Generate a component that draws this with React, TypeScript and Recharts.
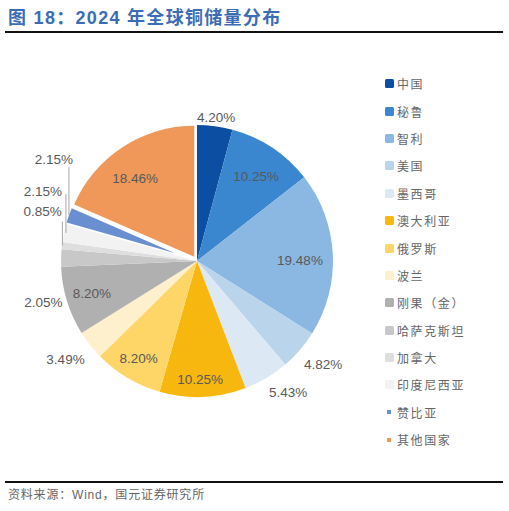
import { PieChart, Pie, Cell } from 'recharts'

const countries = ['中国', '秘鲁', '智利', '美国', '墨西哥', '澳大利亚', '俄罗斯', '波兰', '刚果（金）', '哈萨克斯坦', '加拿大', '印度尼西亚', '赞比亚', '其他国家']
const shares = [4.2, 10.25, 19.48, 4.82, 5.43, 10.25, 8.2, 3.49, 8.2, 2.05, 0.85, 2.15, 2.15, 18.46]
const colors = ['#0b4ea2', '#3a87d0', '#8ab8e2', '#bad4ec', '#dce9f5', '#f8b70f', '#fdd667', '#fef0cc', '#b0b0b0', '#c8c8c8', '#dedede', '#f2f2f2', '#6a8fd0', '#ef9859']

const data = countries.map((name, i) => ({ name, value: shares[i] }))

const CX = 197
const CY = 261
const R = 136
const RAD = Math.PI / 180

// label placement: radius from centre and angle nudge (deg), or leader line
type Place = { r: number; da: number } | { rise: number; textDx: number; lineDx: number; lineGap: number }
const places: Place[] = [
  { r: 145, da: 0 },
  { r: 103, da: -1.5 },
  { r: 103, da: -2.4 },
  { r: 163, da: 1.5 },
  { r: 160, da: 4 },
  { r: 119, da: -1 },
  { r: 114, da: 0 },
  { r: 164, da: -1.5 },
  { r: 110, da: 0 },
  { r: 159, da: 16.3 },
  { rise: 34, textDx: 0, lineDx: 0.5, lineGap: 10 },
  { rise: 41, textDx: -2, lineDx: 2, lineGap: 2 },
  { rise: 56, textDx: 4, lineDx: 0, lineGap: 8 },
  { r: 103, da: 3.7 },
]

// exploded slices: index -> distance
const exploded: [number, number][] = [
  [12, 24],
  [13, 5],
]

const total = shares.reduce((a, b) => a + b, 0)

function midAngleOf(i: number) {
  const before = shares.slice(0, i).reduce((a, b) => a + b, 0)
  return 90 - ((before + shares[i] / 2) / total) * 360
}

const labelStyle = { fontFamily: 'Liberation Sans, Arial, sans-serif', fontSize: 13.5, fill: '#595959' }

function renderLabel(props: any) {
  const { cx, cy, midAngle, index } = props
  const p = places[index]
  const text = `${shares[index].toFixed(2)}%`
  if ('r' in p) {
    const a = (midAngle + p.da) * RAD
    const x = cx + p.r * Math.cos(a)
    const y = cy - p.r * Math.sin(a)
    return (
      <text key={`l-${index}`} x={x} y={y} textAnchor="middle" dominantBaseline="central" {...labelStyle}>
        {text}
      </text>
    )
  }
  const a = midAngle * RAD
  const ex = cx + R * Math.cos(a)
  const ey = cy - R * Math.sin(a)
  const ly = ey - p.rise
  return (
    <g key={`l-${index}`}>
      <line x1={ex + p.lineDx} y1={ey} x2={ex + p.lineDx} y2={ly + p.lineGap} stroke="#a6a6a6" strokeWidth={1} />
      <text x={ex + p.textDx} y={ly} textAnchor="end" dominantBaseline="central" {...labelStyle}>
        {text}
      </text>
    </g>
  )
}

function Legend() {
  return (
    <div style={{ position: 'absolute', left: 384, top: 70, fontFamily: 'Noto Sans CJK SC, sans-serif', fontSize: 12, color: '#666' }}>
      {countries.map((name, i) => {
        const small = exploded.some(([k]) => k === i)
        return (
          <div key={name} style={{ height: 27.4, display: 'flex', alignItems: 'center', letterSpacing: 1.6 }}>
            <div style={{ width: 10, display: 'flex', justifyContent: 'center' }}>
              <span
                style={{
                  display: 'inline-block',
                  width: small ? 4 : 9,
                  height: small ? 4 : 9,
                  background: colors[i],
                  borderRadius: small ? 0 : 1.5,
                }}
              />
            </div>
            <span style={{ marginLeft: 3 }}>{name}</span>
          </div>
        )
      })}
    </div>
  )
}

export default function App() {
  return (
    <div style={{ position: 'absolute', left: 0, top: 0, width: 509, height: 511, background: '#fff', overflow: 'hidden' }}>
      <div
        style={{
          position: 'absolute',
          left: 8,
          top: 3,
          fontFamily: 'Liberation Sans, Noto Sans CJK SC, sans-serif',
          fontWeight: 'bold',
          fontSize: 18,
          letterSpacing: 1.3,
          color: '#3a6db5',
          whiteSpace: 'nowrap',
        }}
      >
        图 18：2024 年全球铜储量分布
      </div>
      <div style={{ position: 'absolute', left: 5, top: 31, width: 498, height: 2, background: '#111' }} />

      <div style={{ position: 'absolute', left: 0, top: 0 }}>
        <PieChart width={509} height={511} margin={{ top: 0, right: 0, bottom: 0, left: 0 }}>
          <Pie
            data={data}
            dataKey="value"
            nameKey="name"
            cx={CX}
            cy={CY}
            outerRadius={R}
            startAngle={90}
            endAngle={-270}
            stroke="none"
            label={renderLabel}
            labelLine={false}
            isAnimationActive={false}
          >
            {data.map((d, i) => (
              <Cell key={`c-${d.name}`} fill={exploded.some(([k]) => k === i) ? 'transparent' : colors[i]} />
            ))}
          </Pie>
          {exploded.map(([k, dist]) => {
            const m = midAngleOf(k) * RAD
            return (
              <Pie
                key={`ex-${k}`}
                data={data}
                dataKey="value"
                nameKey="name"
                cx={CX + dist * Math.cos(m)}
                cy={CY - dist * Math.sin(m)}
                outerRadius={R - dist}
                startAngle={90}
                endAngle={-270}
                stroke="none"
                isAnimationActive={false}
              >
                {data.map((d, i) => (
                  <Cell key={`e-${k}-${d.name}`} fill={i === k ? colors[i] : 'transparent'} />
                ))}
              </Pie>
            )
          })}
        </PieChart>
      </div>

      <Legend />

      <div style={{ position: 'absolute', left: 5, top: 481, width: 498, height: 2, background: '#111' }} />
      <div
        style={{
          position: 'absolute',
          left: 8,
          top: 485,
          fontFamily: 'Liberation Sans, Noto Sans CJK SC, sans-serif',
          fontSize: 12,
          letterSpacing: 0.8,
          color: '#666',
          whiteSpace: 'nowrap',
        }}
      >
        资料来源：Wind，国元证券研究所
      </div>
    </div>
  )
}
